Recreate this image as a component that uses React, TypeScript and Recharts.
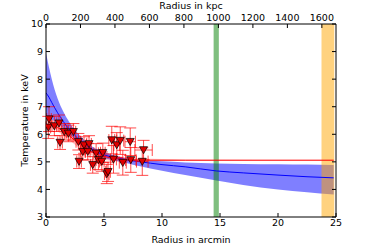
import React from "react";
import {
  ComposedChart,
  Area,
  Line,
  Scatter,
  ErrorBar,
  XAxis,
  YAxis,
  ReferenceArea,
} from "recharts";

// measured temperature profile (arcmin, keV)
const radius = [0.26, 0.2, 0.72, 1.12, 1.21, 1.58, 1.93, 2.36, 2.79, 2.85, 3.17, 3.28, 3.6, 3.71, 4.03, 4.32, 4.52, 4.81, 4.9, 5.24, 5.35, 5.67, 5.82, 6.1, 6.4, 6.62, 7.26, 7.31, 8.3, 8.41];
const temp = [6.55, 6.25, 6.3, 6.4, 5.7, 6.09, 6.03, 6.09, 5.73, 5.01, 5.37, 5.61, 5.37, 5.65, 4.89, 5.31, 5.07, 5.01, 5.33, 4.56, 4.64, 5.79, 5.09, 5.61, 5.77, 4.97, 5.73, 5.07, 5.01, 5.43];
const tempErr = [0.45, 0.4, 0.35, 0.3, 0.25, 0.3, 0.3, 0.3, 0.3, 0.25, 0.3, 0.3, 0.3, 0.3, 0.3, 0.35, 0.35, 0.35, 0.35, 0.35, 0.35, 0.5, 0.5, 0.45, 0.5, 0.45, 0.5, 0.45, 0.5, 0.35];
const radiusErr = [0.2, 0.2, 0.2, 0.2, 0.2, 0.2, 0.2, 0.2, 0.2, 0.2, 0.2, 0.2, 0.2, 0.2, 0.2, 0.2, 0.2, 0.2, 0.2, 0.2, 0.2, 0.25, 0.25, 0.25, 0.3, 0.3, 0.45, 0.45, 0.5, 0.75];

// model curve + band
const modelR = [0, 0.25, 0.5, 1, 1.5, 2, 2.5, 3, 4, 5, 6, 7, 8, 10, 12, 14.7, 17, 20, 22.5, 24.8];
const modelT = [7.5, 7.35, 7.15, 6.78, 6.46, 6.18, 5.95, 5.75, 5.45, 5.25, 5.15, 5.07, 5.01, 4.9, 4.82, 4.67, 4.6, 4.52, 4.46, 4.42];
const modelHi = [8.95, 8.45, 8.0, 7.3, 6.82, 6.45, 6.15, 5.92, 5.55, 5.37, 5.22, 5.12, 5.07, 5.02, 4.98, 4.94, 4.92, 4.91, 4.9, 4.89];
const modelLo = [6.6, 6.57, 6.53, 6.4, 6.22, 6.0, 5.82, 5.62, 5.35, 5.15, 5.04, 4.95, 4.85, 4.68, 4.52, 4.32, 4.16, 4.0, 3.9, 3.82];

// smoothed fit (red)
const fitR = [0.2, 1, 2, 3, 4, 5, 6, 7, 8, 10, 12, 24.8];
const fitT = [6.45, 6.25, 5.95, 5.6, 5.35, 5.2, 5.12, 5.08, 5.06, 5.06, 5.06, 5.06];
const fitLo = [6.3, 6.1, 5.8, 5.45, 5.22, 5.08, 5.02, 5.0, 5.0, 5.02, 5.04, 5.05];
const fitHi = [6.6, 6.4, 6.1, 5.75, 5.48, 5.32, 5.22, 5.16, 5.12, 5.1, 5.08, 5.07];

const xTicks = [0, 5, 10, 15, 20, 25];
const kpcTicks = [0, 200, 400, 600, 800, 1000, 1200, 1400, 1600];
const yTicks = [3, 4, 5, 6, 7, 8, 9, 10];
const kpcMax = 1682;

const points = radius.map((r, i) => ({ r, t: temp[i], et: tempErr[i], er: radiusErr[i] }));
const model = modelR.map((r, i) => ({ r, t: modelT[i], band: [modelLo[i], modelHi[i]] }));
const fit = fitR.map((r, i) => ({ r, t: fitT[i], band: [fitLo[i], fitHi[i]] }));
// keeps the kpc axis attached to something
const kpcRange = [{ k: 0, t: 3 }, { k: kpcMax, t: 3 }];

const font = "'DejaVu Sans', sans-serif";
const tickStyle = { fill: "#000", fontSize: 9.5, fontFamily: font };

// eslint-disable-next-line @typescript-eslint/no-explicit-any
function DownTriangle({ cx, cy }: any) {
  return (
    <polygon
      points={`${cx - 4},${cy - 3.3} ${cx + 4},${cy - 3.3} ${cx},${cy + 3.8}`}
      fill="#e00000"
      stroke="#000"
      strokeWidth={0.7}
    />
  );
}

export default function App() {
  return (
    <div style={{ position: "absolute", left: 0, top: 0, background: "#fff" }}>
      <ComposedChart width={374} height={249} margin={{ top: 1, right: 28, bottom: 2, left: 6 }}>
        <XAxis
          xAxisId="bottom"
          type="number"
          dataKey="r"
          domain={[0, 25]}
          ticks={xTicks}
          allowDataOverflow
          tick={tickStyle}
          tickSize={-4}
          tickMargin={6}
          stroke="#000"
          height={30}
          label={{ value: "Radius in arcmin", position: "insideBottom", offset: 4, style: tickStyle }}
        />
        <XAxis
          xAxisId="top"
          orientation="top"
          type="number"
          dataKey="k"
          domain={[0, kpcMax]}
          ticks={kpcTicks}
          allowDataOverflow
          tick={tickStyle}
          tickSize={-4}
          tickMargin={7}
          stroke="#000"
          height={23}
          label={{ value: "Radius in kpc", position: "insideTop", offset: 1, style: tickStyle }}
        />
        <YAxis
          yAxisId="left"
          type="number"
          domain={[3, 10]}
          ticks={yTicks}
          allowDataOverflow
          tick={tickStyle}
          tickSize={-4}
          tickMargin={7}
          stroke="#000"
          width={40}
          label={{ value: "Temperature in keV", angle: -90, position: "insideLeft", offset: 19, style: { ...tickStyle, textAnchor: "middle" } }}
        />
        <YAxis
          yAxisId="right"
          orientation="right"
          type="number"
          domain={[3, 10]}
          ticks={yTicks}
          allowDataOverflow
          tick={() => <g />}
          tickSize={-4}
          stroke="#000"
          width={10}
        />

        <Area
          xAxisId="bottom"
          yAxisId="left"
          data={model}
          dataKey="band"
          type="monotone"
          stroke="none"
          fill="#0000ff"
          fillOpacity={0.5}
          isAnimationActive={false}
        />
        <Area
          xAxisId="bottom"
          yAxisId="left"
          data={fit}
          dataKey="band"
          type="monotone"
          stroke="none"
          fill="#ff0000"
          fillOpacity={0.25}
          isAnimationActive={false}
        />
        <Line
          xAxisId="bottom"
          yAxisId="left"
          data={model}
          dataKey="t"
          type="monotone"
          stroke="#0000ff"
          strokeWidth={1}
          dot={false}
          isAnimationActive={false}
        />
        <Line
          xAxisId="bottom"
          yAxisId="left"
          data={fit}
          dataKey="t"
          type="monotone"
          stroke="#ff0000"
          strokeWidth={1}
          dot={false}
          isAnimationActive={false}
        />

        <ReferenceArea xAxisId="bottom" yAxisId="left" x1={14.45} x2={14.9} y1={3} y2={10} fill="#008000" fillOpacity={0.5} stroke="none" />
        <ReferenceArea xAxisId="bottom" yAxisId="left" x1={23.75} x2={24.85} y1={3} y2={10} fill="#ffa500" fillOpacity={0.5} stroke="none" />

        <Scatter
          xAxisId="bottom"
          yAxisId="left"
          data={points}
          dataKey="t"
          shape={<DownTriangle />}
          isAnimationActive={false}
        >
          <ErrorBar dataKey="et" direction="y" width={6} stroke="#ff0000" strokeOpacity={0.7} strokeWidth={1} />
          <ErrorBar dataKey="er" direction="x" width={6} stroke="#ff0000" strokeOpacity={0.7} strokeWidth={1} />
        </Scatter>
        <Scatter
          xAxisId="top"
          yAxisId="left"
          data={kpcRange}
          dataKey="t"
          shape={() => <g />}
          isAnimationActive={false}
        />
      </ComposedChart>
    </div>
  );
}
